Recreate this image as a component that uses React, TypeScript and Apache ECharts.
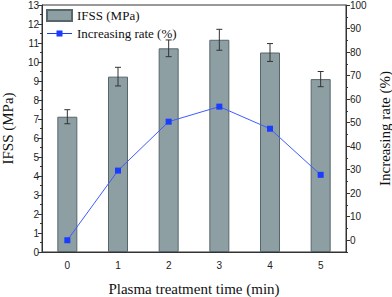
import React, { useEffect, useRef } from "react";
import * as echarts from "echarts";

const categories = ["0", "1", "2", "3", "4", "5"];
const ifss = [7.12, 9.23, 10.72, 11.17, 10.5, 9.1];
const ifssErr = [0.37, 0.49, 0.44, 0.55, 0.47, 0.4];
const rate = [0, 29.6, 50.4, 56.8, 47.4, 27.8];
const rateTicks = [0, 10, 20, 30, 40, 50, 60, 70, 80, 90, 100];

export default function App() {
  const ref = useRef<HTMLDivElement>(null);
  useEffect(() => {
    const chart = echarts.init(ref.current!, undefined, { renderer: "svg" });
    const axisColor = "#333";
    const serif = "'Liberation Serif', 'Times New Roman', serif";
    const tickFont = { fontFamily: "'Liberation Sans', Arial, sans-serif", fontSize: 10, color: "#222" };
    const titleFont = { fontFamily: serif, fontSize: 15, color: "#111" };
    chart.setOption({
      animation: false,
      backgroundColor: "#fff",
      grid: {
        left: 42,
        right: 46,
        top: 5,
        bottom: 45,
        containLabel: false,
        outerBoundsMode: "none",
        show: true,
        borderColor: axisColor,
        borderWidth: 1,
        backgroundColor: "transparent",
      },
      legend: {
        orient: "vertical",
        left: 41,
        top: 4,
        itemWidth: 25,
        itemHeight: 11,
        itemGap: 5,
        textStyle: { fontFamily: serif, fontSize: 13, color: "#111" },
        data: [
          { name: "IFSS (MPa)", icon: "rect" },
          { name: "Increasing rate (%)", icon: "path://M0,5h25v1h-25z M9.5,2.5h6v6h-6z" },
        ],
      },
      xAxis: [
        {
          type: "category",
          data: categories,
          axisLine: { lineStyle: { color: axisColor } },
          axisTick: { alignWithLabel: true, length: 5, lineStyle: { color: axisColor } },
          axisLabel: { ...tickFont, margin: 8 },
          name: "Plasma treatment time (min)",
          nameLocation: "middle",
          nameGap: 29,
          nameTextStyle: titleFont,
        },
        {
          type: "category",
          data: categories,
          position: "bottom",
          axisLine: { show: false },
          axisTick: { length: 3, lineStyle: { color: axisColor } },
          axisLabel: { show: false },
        },
      ],
      yAxis: [
        {
          type: "value",
          min: 0,
          max: 13,
          interval: 1,
          position: "left",
          axisLine: { show: true, lineStyle: { color: axisColor } },
          axisTick: { show: true, length: 4, lineStyle: { color: axisColor } },
          minorTick: { show: true, splitNumber: 2, length: 2, lineStyle: { color: axisColor } },
          axisLabel: { ...tickFont, margin: 3 },
          splitLine: { show: false },
          name: "IFSS (MPa)",
          nameLocation: "middle",
          nameGap: 27,
          nameRotate: 90,
          nameTextStyle: titleFont,
        },
        {
          type: "value",
          min: -5,
          max: 100,
          interval: 5,
          position: "right",
          axisLine: { show: true, lineStyle: { color: axisColor } },
          axisTick: { show: true, length: 2, lineStyle: { color: axisColor } },
          axisLabel: {
            ...tickFont,
            margin: 4,
            formatter: (v: number) => (v >= 0 && v % 10 === 0 ? String(v) : ""),
          },
          splitLine: { show: false },
          name: "Increasing rate (%)",
          nameLocation: "middle",
          nameGap: 26,
          nameRotate: 90,
          nameTextStyle: titleFont,
        },
        {
          type: "value",
          min: -5,
          max: 100,
          position: "right",
          axisLine: { show: false },
          axisTick: { show: true, length: 4, customValues: rateTicks, lineStyle: { color: axisColor } },
          axisLabel: { show: false },
          splitLine: { show: false },
        },
      ],
      series: [
        {
          name: "IFSS (MPa)",
          type: "bar",
          data: ifss,
          barWidth: 20,
          itemStyle: { color: "#8E9FA4", borderColor: "#56666b", borderWidth: 1 },
        },
        {
          name: "IFSS err",
          type: "custom",
          data: ifss.map((v, i) => [i, v - ifssErr[i], v + ifssErr[i]]),
          renderItem: (params: any, api: any) => {
            const x = api.value(0);
            const lo = api.coord([x, api.value(1)]);
            const hi = api.coord([x, api.value(2)]);
            const w = 3;
            const style = { stroke: "#333", lineWidth: 1 };
            return {
              type: "group",
              children: [
                { type: "line", shape: { x1: lo[0], y1: lo[1], x2: hi[0], y2: hi[1] }, style },
                { type: "line", shape: { x1: lo[0] - w, y1: lo[1], x2: lo[0] + w, y2: lo[1] }, style },
                { type: "line", shape: { x1: hi[0] - w, y1: hi[1], x2: hi[0] + w, y2: hi[1] }, style },
              ],
            };
          },
          z: 3,
        },
        {
          name: "Increasing rate (%)",
          type: "line",
          yAxisIndex: 1,
          data: rate,
          symbol: "rect",
          symbolSize: 6,
          lineStyle: { color: "#3d5cff", width: 1 },
          itemStyle: { color: "#1a3cff" },
          z: 4,
        },
      ],
    });
    return () => chart.dispose();
  }, []);
  return <div ref={ref} style={{ position: "fixed", left: 0, top: 0, width: 392, height: 297 }} />;
}
